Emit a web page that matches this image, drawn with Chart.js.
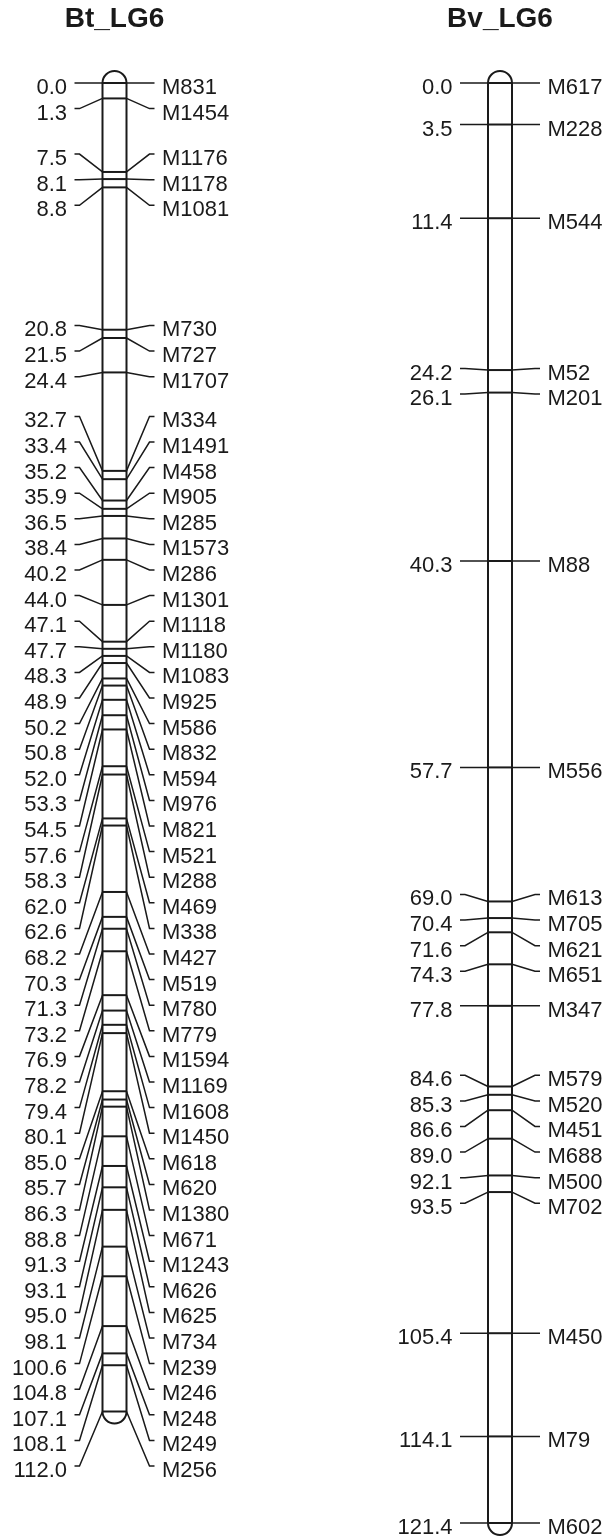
<!DOCTYPE html>
<html>
<head>
<meta charset="utf-8">
<script src="https://cdn.jsdelivr.net/npm/chart.js@4.4.1/dist/chart.umd.min.js"></script>
<style>
  html, body { margin: 0; padding: 0; background: #fff; }
  canvas { display: block; }
</style>
</head>
<body>
<canvas id="map" width="608" height="1539"></canvas>
<script>
// linkage groups
const groupNames = ['Bt_LG6', 'Bv_LG6'];

// Bt_LG6 positions (cM) and marker names
const btPos = [0.0, 1.3, 7.5, 8.1, 8.8, 20.8, 21.5, 24.4, 32.7, 33.4,
  35.2, 35.9, 36.5, 38.4, 40.2, 44.0, 47.1, 47.7, 48.3, 48.9,
  50.2, 50.8, 52.0, 53.3, 54.5, 57.6, 58.3, 62.0, 62.6, 68.2,
  70.3, 71.3, 73.2, 76.9, 78.2, 79.4, 80.1, 85.0, 85.7, 86.3,
  88.8, 91.3, 93.1, 95.0, 98.1, 100.6, 104.8, 107.1, 108.1, 112.0];
const btMarkers = ['M831', 'M1454', 'M1176', 'M1178', 'M1081', 'M730', 'M727', 'M1707', 'M334', 'M1491',
  'M458', 'M905', 'M285', 'M1573', 'M286', 'M1301', 'M1118', 'M1180', 'M1083', 'M925',
  'M586', 'M832', 'M594', 'M976', 'M821', 'M521', 'M288', 'M469', 'M338', 'M427',
  'M519', 'M780', 'M779', 'M1594', 'M1169', 'M1608', 'M1450', 'M618', 'M620', 'M1380',
  'M671', 'M1243', 'M626', 'M625', 'M734', 'M239', 'M246', 'M248', 'M249', 'M256'];

// Bv_LG6 positions (cM) and marker names
const bvPos = [0.0, 3.5, 11.4, 24.2, 26.1, 40.3, 57.7, 69.0, 70.4, 71.6,
  74.3, 77.8, 84.6, 85.3, 86.6, 89.0, 92.1, 93.5, 105.4, 114.1, 121.4];
const bvMarkers = ['M617', 'M228', 'M544', 'M52', 'M201', 'M88', 'M556', 'M613', 'M705', 'M621',
  'M651', 'M347', 'M579', 'M520', 'M451', 'M688', 'M500', 'M702', 'M450', 'M79', 'M602'];

// layout
const CENTERS = [114.5, 500];
const HALF_W = 12;
const LABEL_GAP = 25.6;
const INK = '#1a1a1a';
const LABEL_FONT = '22px "Liberation Sans", Arial, sans-serif';
const TITLE_FONT = 'bold 28px "Liberation Sans", Arial, sans-serif';

const groups = [
  { name: groupNames[0], pos: btPos, markers: btMarkers, x: CENTERS[0] },
  { name: groupNames[1], pos: bvPos, markers: bvMarkers, x: CENTERS[1] }
];

// spread labels: find crowded runs with a push-down pass,
// then centre each run on the span of its markers
function spreadLabels(ys, top, gap) {
  let runs = [];
  let prev = -Infinity;
  ys.forEach((y, i) => {
    if (y - prev >= gap) runs.push({ a: i, b: i });
    else runs[runs.length - 1].b = i;
    prev = Math.max(y, prev + gap);
  });
  const place = r => {
    r.start = Math.max(top, (ys[r.a] + ys[r.b]) / 2 - (r.b - r.a) * gap / 2);
  };
  runs.forEach(place);
  let k = 0;
  while (k < runs.length - 1) {
    const c = runs[k], d = runs[k + 1];
    if (d.start - (c.start + (c.b - c.a) * gap) < gap - 0.01) {
      runs.splice(k, 2, { a: c.a, b: d.b });
      place(runs[k]);
      k = Math.max(0, k - 1);
    } else {
      k++;
    }
  }
  const out = [];
  runs.forEach(r => {
    for (let i = r.a; i <= r.b; i++) out[i] = r.start + (i - r.a) * gap;
  });
  return out;
}

const mapPlugin = {
  id: 'linkageMap',
  beforeDatasetsDraw(chart) {
    const ctx = chart.ctx;
    const xs = chart.scales.x, ys = chart.scales.y;
    ctx.save();
    ctx.strokeStyle = INK;
    ctx.lineWidth = 2;
    groups.forEach(g => {
      const c = xs.getPixelForValue(g.x);
      const y0 = ys.getPixelForValue(g.pos[0]);
      const yN = ys.getPixelForValue(g.pos[g.pos.length - 1]);
      ctx.beginPath();
      ctx.moveTo(c - HALF_W, y0);
      ctx.lineTo(c - HALF_W, yN);
      ctx.arc(c, yN, HALF_W, Math.PI, 0, true);
      ctx.lineTo(c + HALF_W, y0);
      ctx.arc(c, y0, HALF_W, 0, Math.PI, true);
      ctx.closePath();
      ctx.stroke();
    });
    ctx.restore();
  },
  afterDatasetsDraw(chart) {
    const ctx = chart.ctx;
    const xs = chart.scales.x, ys = chart.scales.y;
    ctx.save();
    ctx.strokeStyle = INK;
    ctx.fillStyle = INK;
    ctx.lineWidth = 1.5;

    groups.forEach(g => {
      const c = xs.getPixelForValue(g.x);
      const my = g.pos.map(p => ys.getPixelForValue(p));
      const ly = spreadLabels(my, my[0], LABEL_GAP);

      ctx.font = LABEL_FONT;
      ctx.textBaseline = 'alphabetic';
      my.forEach((m, i) => {
        const l = ly[i];
        ctx.beginPath();
        ctx.moveTo(c - 40, l);
        ctx.lineTo(c - 35, l);
        ctx.lineTo(c - HALF_W, m);
        ctx.moveTo(c + HALF_W, m);
        ctx.lineTo(c + 35, l);
        ctx.lineTo(c + 40, l);
        ctx.stroke();

        ctx.textAlign = 'right';
        ctx.fillText(g.pos[i].toFixed(1), c - 47.5, l + 11);
        ctx.textAlign = 'left';
        ctx.fillText(g.markers[i], c + 47.5, l + 11);
      });

      ctx.font = TITLE_FONT;
      ctx.textAlign = 'center';
      ctx.fillText(g.name, c, 27);
    });
    ctx.restore();
  }
};

new Chart(document.getElementById('map'), {
  type: 'scatter',
  data: {
    datasets: groups.map(g => ({
      label: g.name,
      data: g.pos.map(p => ({ x: g.x, y: p })),
      pointStyle: 'line',
      pointRadius: 12,
      pointHoverRadius: 12,
      borderColor: INK,
      borderWidth: 2,
      clip: false
    }))
  },
  options: {
    responsive: false,
    devicePixelRatio: 1,
    animation: false,
    events: [],
    layout: { autoPadding: false, padding: { top: 83, bottom: 16, left: 0, right: 0 } },
    scales: {
      x: { type: 'linear', min: 0, max: 608, display: false },
      y: { type: 'linear', min: 0, max: 121.4, reverse: true, display: false }
    },
    plugins: {
      legend: { display: false },
      tooltip: { enabled: false }
    }
  },
  plugins: [mapPlugin]
});
</script>
</body>
</html>
